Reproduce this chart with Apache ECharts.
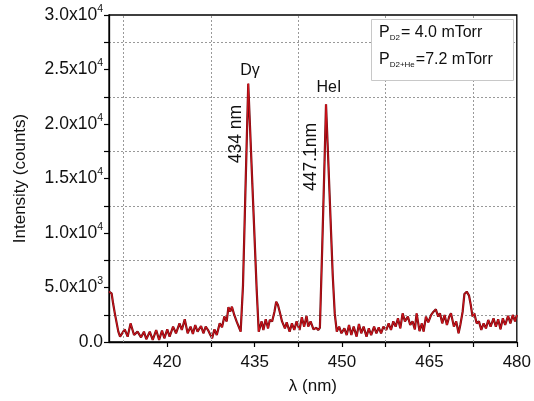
<!DOCTYPE html>
<html>
<head>
<meta charset="utf-8">
<script src="https://cdn.jsdelivr.net/npm/echarts@6/dist/echarts.min.js"></script>
<style>html,body{margin:0;padding:0;background:#fff;}#c{width:534px;height:401px;}</style>
</head>
<body>
<div id="c"></div>
<script>
// wavelength (nm)
const wavelength = [
410.0,410.45,410.7,411.0,411.3,411.6,411.9,412.2,412.7,413.2,413.7,414.3,414.9,415.5,416.0,416.4,417.0,417.5,418.1,418.6,
419.1,419.5,420.0,420.4,421.0,421.5,422.1,422.5,423.0,423.5,424.0,424.4,424.8,425.2,425.8,426.2,426.6,427.0,427.4,427.7,
428.1,428.5,429.0,429.4,429.8,430.2,430.5,430.8,431.1,431.5,431.9,432.2,432.6,433.0,433.4,433.9,434.2,434.6,435.0,435.35,
435.7,436.2,436.5,436.9,437.3,437.6,438.0,438.4,438.7,439.0,439.3,439.7,440.2,440.5,441.0,441.4,441.8,442.2,442.7,443.1,
443.5,443.9,444.2,444.6,445.1,445.6,445.9,446.2,446.6,447.0,447.25,447.6,448.0,448.4,448.75,449.1,449.5,449.9,450.4,450.8,
451.2,451.6,452.0,452.5,452.9,453.3,453.7,454.2,454.6,455.0,455.5,455.9,456.3,456.7,457.1,457.6,458.0,458.4,458.8,459.2,
459.6,460.0,460.4,460.8,461.3,461.7,462.1,462.5,462.8,463.3,463.7,464.0,464.4,464.8,465.3,465.7,466.1,466.5,466.8,467.2,
467.6,468.0,468.4,468.7,469.2,469.6,470.0,470.3,470.7,471.0,471.4,471.8,472.1,472.4,472.7,473.1,473.5,473.9,474.3,474.7,
475.1,475.5,476.0,476.4,476.8,477.2,477.6,478.0,478.5,478.9,479.3,479.7,480.0
];
// intensity (counts)
const intensity = [
4620,4460,3550,2630,2480,950,490,340,1160,490,1710,640,950,430,950,250,950,190,1100,190,
1040,340,1160,490,1410,800,1710,1100,2080,800,1410,740,1560,950,1470,800,1410,1100,640,340,
1160,640,1710,1350,2330,1890,3190,2780,3240,2480,1890,1800,950,5200,13500,23700,19800,14550,9350,4800,
950,1890,1100,2080,1250,2020,1890,2780,3700,3390,2780,1890,1250,1800,950,1710,1100,1890,1100,2270,
1410,2390,1410,1890,1160,1300,1100,1300,8700,16650,21800,17150,11650,6150,2600,950,1410,800,1250,640,
1560,640,1410,490,1650,800,1410,490,1250,640,1410,800,1350,800,1410,1100,1710,1100,1890,1410,
2170,1250,2630,1890,2330,1560,1890,1160,2630,1000,1710,950,2330,1800,2480,2780,2990,2330,2630,1710,
2480,1560,2330,2630,1410,1890,800,1560,2780,4400,4620,4250,3390,2330,2630,1710,1890,1100,1710,1250,
2020,1410,2170,1410,2080,1160,2170,1560,2390,1710,2480,1890,2480
];
const xLabelValues = [420, 435, 450, 465, 480];
const xTickValues = [420, 427.5, 435, 442.5, 450, 457.5, 465, 472.5, 480];
const xGridValues = [412.5, 427.5, 442.5, 457.5, 472.5];
const yTickLabels = {0: ['0.0', ''], 5000: ['5.0x10', '3'], 10000: ['1.0x10', '4'], 15000: ['1.5x10', '4'],
  20000: ['2.0x10', '4'], 25000: ['2.5x10', '4'], 30000: ['3.0x10', '4']};

const data = wavelength.map((w, i) => [w, intensity[i]]);
const FONT = '"Liberation Sans", Arial, sans-serif';

const chart = echarts.init(document.getElementById('c'), null, {renderer: 'canvas'});
chart.setOption({
  animation: false,
  backgroundColor: '#fff',
  grid: {left: 109, right: 14, top: 15, bottom: 59, show: true, borderColor: '#000', borderWidth: 1.3, backgroundColor: 'transparent'},
  xAxis: {
    type: 'value', min: 410, max: 480,
    name: 'λ (nm)', nameLocation: 'middle', nameGap: 36,
    nameTextStyle: {fontFamily: FONT, fontSize: 17, color: '#111'},
    axisLine: {onZero: false, lineStyle: {color: '#000', width: 1.3}},
    axisTick: {show: true, customValues: xTickValues, length: 5, lineStyle: {color: '#000', width: 1.2}},
    axisLabel: {customValues: xLabelValues, fontFamily: FONT, fontSize: 17, color: '#111', margin: 12},
    splitLine: {show: false}
  },
  yAxis: {
    type: 'value', min: 0, max: 30000, interval: 5000,
    name: 'Intensity (counts)', nameLocation: 'middle', nameGap: 80,
    nameTextStyle: {fontFamily: FONT, fontSize: 17, color: '#111'},
    axisLine: {show: true, lineStyle: {color: '#000', width: 1.3}},
    axisTick: {show: true, length: 5, lineStyle: {color: '#000', width: 1.2}},
    minorTick: {show: true, splitNumber: 2, length: 5, lineStyle: {color: '#000', width: 1.2}},
    minorSplitLine: {show: true, lineStyle: {color: '#999', type: [2, 2], width: 1}},
    splitLine: {show: false},
    axisLabel: {
      margin: 6,
      formatter: v => {
        const t = yTickLabels[v];
        if (!t) return '';
        return t[1] ? '{b|' + t[0] + '}{s|' + t[1] + '}' : '{b|' + t[0] + '}';
      },
      rich: {
        b: {fontFamily: FONT, fontSize: 17.5, color: '#111'},
        s: {fontFamily: FONT, fontSize: 10.5, color: '#111', padding: [0, 0, 12, 0]}
      }
    }
  },
  series: [
    {
      type: 'line', data: data, showSymbol: false, symbol: 'none',
      lineStyle: {color: '#6e0a10', width: 2.2}, z: 3,
      markLine: {
        silent: true, symbol: 'none', label: {show: false},
        lineStyle: {color: '#999', type: [2, 2], width: 1},
        data: xGridValues.map(v => ({xAxis: v}))
      }
    },
    {
      type: 'line', data: data, showSymbol: false, symbol: 'none',
      lineStyle: {color: '#e0141c', width: 0.9}, z: 4
    }
  ],
  graphic: [
    {type: 'rect', left: 371, top: 19, shape: {width: 142, height: 61}, style: {fill: '#fff', stroke: '#c8c8c8', lineWidth: 1}, z: 10},
    {type: 'text', left: 379, top: 25, z: 11, style: {
      text: '{p|P}{sub|D2}{p|= 4.0 mTorr}',
      rich: {p: {fontFamily: FONT, fontSize: 16, fill: '#111'}, sub: {fontFamily: FONT, fontSize: 8, fill: '#111', padding: [9, 1, 0, 0]}}
    }},
    {type: 'text', left: 379, top: 52, z: 11, style: {
      text: '{p|P}{sub|D2+He}{p|=7.2 mTorr}',
      rich: {p: {fontFamily: FONT, fontSize: 16, fill: '#111'}, sub: {fontFamily: FONT, fontSize: 8, fill: '#111', padding: [9, 1, 0, 0]}}
    }},
    {type: 'text', x: 250, y: 71, z: 11, style: {text: 'Dγ', font: '16px ' + FONT, fill: '#111', align: 'center', verticalAlign: 'middle'}},
    {type: 'text', x: 236, y: 134, rotation: Math.PI / 2, z: 11, style: {text: '434 nm', font: '17.5px ' + FONT, fill: '#111', align: 'center', verticalAlign: 'middle'}},
    {type: 'text', x: 329, y: 88, z: 11, style: {text: 'HeI', font: '16px ' + FONT, fill: '#111', align: 'center', verticalAlign: 'middle'}},
    {type: 'text', x: 311, y: 157, rotation: Math.PI / 2, z: 11, style: {text: '447.1nm', font: '17.5px ' + FONT, fill: '#111', align: 'center', verticalAlign: 'middle'}}
  ]
});
</script>
</body>
</html>
